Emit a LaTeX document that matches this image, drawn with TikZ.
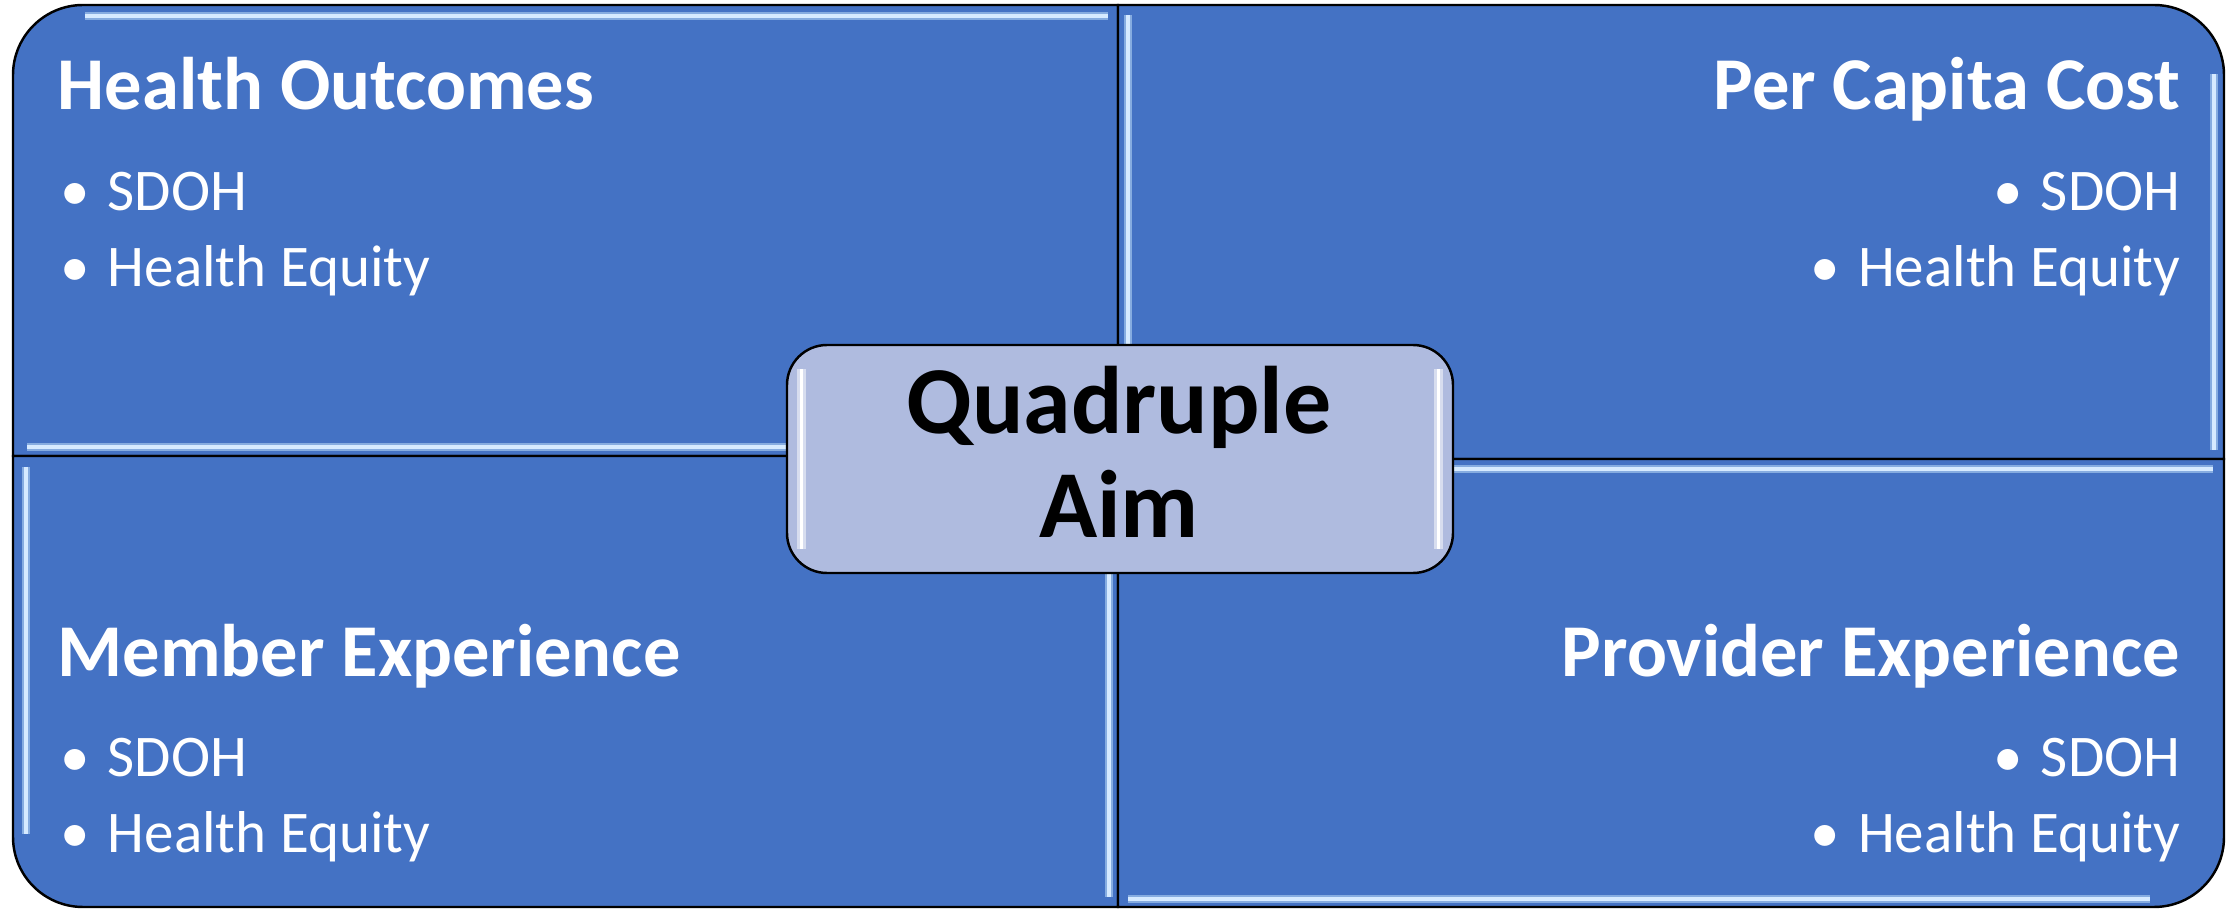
\documentclass[tikz,border=0pt]{standalone}
\usepackage{fontspec}
\setmainfont{Carlito}
\definecolor{quadblue}{HTML}{4472C4}
\definecolor{aimfill}{HTML}{AFBBDF}
\definecolor{glint}{HTML}{D6EAFF}
\definecolor{glintedge}{HTML}{86ACE0}
\newcommand{\dotitem}{\makebox[0.8em][l]{•}}
\begin{document}
\begin{tikzpicture}[
    quad/.style={fill=quadblue, draw=black, line width=0.7pt},
    glow/.style={draw=glintedge, double=glint, double distance=0.9pt, line width=0.8pt},
    aimglow/.style={draw=aimfill!50!white, double=white, double distance=0.9pt, line width=0.8pt},
    head/.style={text=white, inner sep=0pt, font=\bfseries\fontsize{21.2}{25}\selectfont},
    item/.style={text=white, inner sep=0pt, font=\fontsize{16.8}{20}\selectfont},
    aimtext/.style={text=black, inner sep=0pt, font=\bfseries\fontsize{27.3}{33}\selectfont},
  ]
    \useasboundingbox (0,0) rectangle (22.36,9.09);
    % 外框和分隔点
    \coordinate (ML) at (0.13,4.53);
    \coordinate (MR) at (22.24,4.50);
    \coordinate (MT) at (11.18,9.04);
    \coordinate (MB) at (11.18,0.02);
    \coordinate (C1) at (11.18,4.53);
    \coordinate (C2) at (11.18,4.50);
    % 四个象限
    \draw[quad] (ML) -- ++(0,3.81) arc[start angle=180, end angle=90, radius=0.7] -- (MT) -- (C1) -- cycle;
    \draw[quad] (C2) -- (MT) -- ++(10.36,0) arc[start angle=90, end angle=0, radius=0.7] -- (MR) -- cycle;
    \draw[quad] (C1) -- (ML) -- (0.13,0.72) arc[start angle=180, end angle=270, radius=0.7] -- (MB) -- cycle;
    \draw[quad] (C2) -- (MB) -- ++(10.36,0) arc[start angle=270, end angle=360, radius=0.7] -- (MR) -- cycle;
    % 高光
    \draw[glow] (0.85,8.93) -- (11.08,8.93);
    \draw[glow] (0.27,4.62) -- (11.08,4.62);
    \draw[glow] (0.26,4.42) -- (0.26,0.75);
    \draw[glow] (11.09,4.42) -- (11.09,0.12);
    \draw[glow] (11.28,8.94) -- (11.28,4.59);
    \draw[glow] (22.14,8.35) -- (22.14,4.59);
    \draw[glow] (11.28,4.40) -- (22.13,4.40);
    \draw[glow] (11.28,0.10) -- (21.50,0.10);
    % 中心框
    \node[draw=black, fill=aimfill, line width=0.7pt, rounded corners=0.4cm,
          minimum width=6.66cm, minimum height=2.28cm] (aim) at (11.20,4.50) {};
    \draw[aimglow] ([xshift=0.16cm,yshift=0.9cm]aim.west) -- ([xshift=0.16cm,yshift=-0.9cm]aim.west);
    \draw[aimglow] ([xshift=-0.16cm,yshift=0.9cm]aim.east) -- ([xshift=-0.16cm,yshift=-0.9cm]aim.east);
    \node[aimtext, anchor=base] (aimA) at (11.19,4.75) {Quadruple};
    \node[aimtext, anchor=base] (aimB) at (11.19,3.71) {Aim};
    % 标注文字
    \node[head, anchor=base west] (hoTitle) at (0.57,7.99) {Health Outcomes};
    \node[item, anchor=base west] (hoA) at (0.60,6.98) {\dotitem SDOH};
    \node[item, anchor=base west] (hoB) at (0.60,6.22) {\dotitem Health Equity};
    \node[head, anchor=base east] (pcTitle) at (21.81,7.99) {Per Capita Cost};
    \node[item, anchor=base east] (pcA) at (21.81,6.98) {\dotitem SDOH};
    \node[item, anchor=base east] (pcB) at (21.81,6.22) {\dotitem Health Equity};
    \node[head, anchor=base west] (meTitle) at (0.57,2.32) {Member Experience};
    \node[item, anchor=base west] (meA) at (0.60,1.32) {\dotitem SDOH};
    \node[item, anchor=base west] (meB) at (0.60,0.56) {\dotitem Health Equity};
    \node[head, anchor=base east] (peTitle) at (21.81,2.32) {Provider Experience};
    \node[item, anchor=base east] (peA) at (21.81,1.32) {\dotitem SDOH};
    \node[item, anchor=base east] (peB) at (21.81,0.56) {\dotitem Health Equity};
\end{tikzpicture}
\end{document}
